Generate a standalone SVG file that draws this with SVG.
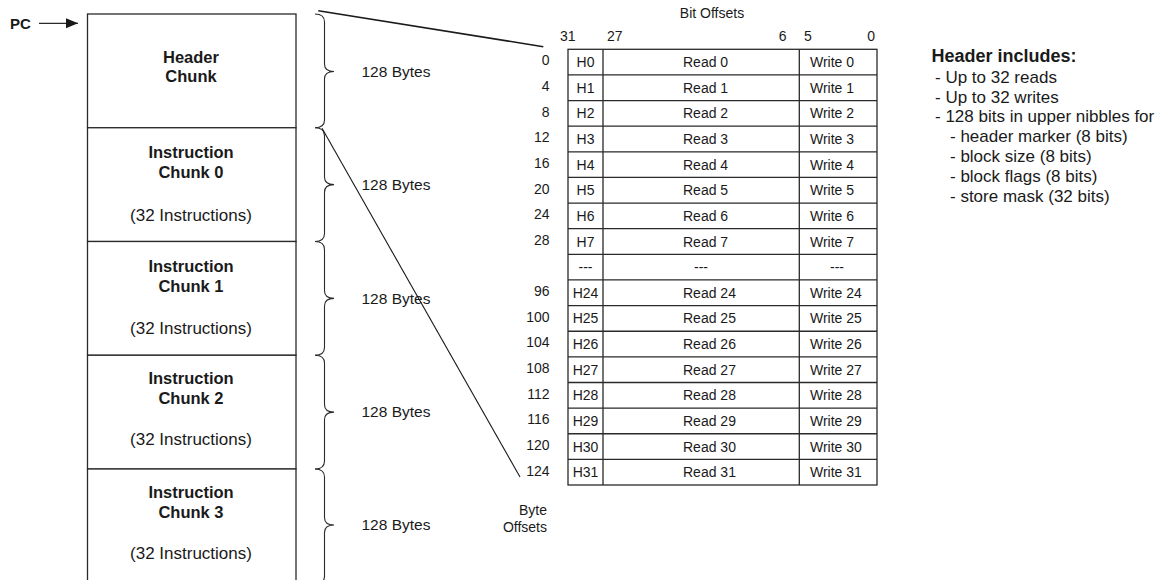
<svg xmlns="http://www.w3.org/2000/svg" width="1166" height="580" viewBox="0 0 1166 580">
<defs>
<style>
.t{font-family:"Liberation Sans",Arial,sans-serif;fill:#1a1a1a}
.b{font-weight:bold}
.c{text-anchor:middle}
.e{text-anchor:end}
.s14{font-size:14px}
.box{fill:#fff;stroke:#2a2a2a;stroke-width:1.3}
.ln{fill:none;stroke:#2a2a2a;stroke-width:1.3}
.br{fill:none;stroke:#2a2a2a;stroke-width:1.1}
</style>
<marker id="arr" markerWidth="13" markerHeight="11" refX="12" refY="5" orient="auto" markerUnits="userSpaceOnUse">
<path d="M0,0 L12,5 L0,10 z" fill="#1a1a1a"/>
</marker>
</defs>
<rect width="1166" height="580" fill="#fff"/>

<g id="pc">
<text class="t b" x="10" y="28.5" font-size="15">PC</text>
</g>

<g id="header-chunk">
<rect class="box" x="87.5" y="14" width="208.5" height="113.75"/>
<text class="t b c" x="191" y="63.3" font-size="16.5">Header</text>
<text class="t b c" x="191" y="82.3" font-size="16.5">Chunk</text>
</g>
<g id="chunk0">
<rect class="box" x="87.5" y="127.75" width="208.5" height="113.75"/>
<text class="t b c" x="191" y="158" font-size="16.5">Instruction</text>
<text class="t b c" x="191" y="177.5" font-size="16.5">Chunk 0</text>
<text class="t c" x="191" y="221" font-size="17">(32 Instructions)</text>
</g>
<g id="chunk1">
<rect class="box" x="87.5" y="241.5" width="208.5" height="113.75"/>
<text class="t b c" x="191" y="271.5" font-size="16.5">Instruction</text>
<text class="t b c" x="191" y="291.5" font-size="16.5">Chunk 1</text>
<text class="t c" x="191" y="334" font-size="17">(32 Instructions)</text>
</g>
<g id="chunk2">
<rect class="box" x="87.5" y="355.25" width="208.5" height="113.75"/>
<text class="t b c" x="191" y="383.5" font-size="16.5">Instruction</text>
<text class="t b c" x="191" y="403.5" font-size="16.5">Chunk 2</text>
<text class="t c" x="191" y="445" font-size="17">(32 Instructions)</text>
</g>
<g id="chunk3">
<rect class="box" x="87.5" y="469" width="208.5" height="130"/>
<text class="t b c" x="191" y="497.5" font-size="16.5">Instruction</text>
<text class="t b c" x="191" y="517.5" font-size="16.5">Chunk 3</text>
<text class="t c" x="191" y="558.5" font-size="17">(32 Instructions)</text>
</g>

<g id="braces">
<path class="br" d="M315,14 Q324.5,14 324.5,22 L324.5,64 Q324.5,71.5 334,71.5 Q324.5,71.5 324.5,79 L324.5,120 Q324.5,127.75 315,127.75"/>
<path class="br" d="M315,127.75 Q324.5,127.75 324.5,135.75 L324.5,177 Q324.5,184.6 334,184.6 Q324.5,184.6 324.5,192.2 L324.5,233.5 Q324.5,241.5 315,241.5"/>
<path class="br" d="M315,241.5 Q324.5,241.5 324.5,249.5 L324.5,290.8 Q324.5,298.4 334,298.4 Q324.5,298.4 324.5,306 L324.5,347.25 Q324.5,355.25 315,355.25"/>
<path class="br" d="M315,355.25 Q324.5,355.25 324.5,363.25 L324.5,404.5 Q324.5,412.1 334,412.1 Q324.5,412.1 324.5,419.7 L324.5,461 Q324.5,469 315,469"/>
<path class="br" d="M315,469 Q324.5,469 324.5,477 L324.5,517.5 Q324.5,525 334,525 Q324.5,525 324.5,532.5 L324.5,576 Q324.5,584 315,584"/>
<text class="t" x="361.5" y="76.8" font-size="15.5">128 Bytes</text>
<text class="t" x="361.5" y="190" font-size="15.5">128 Bytes</text>
<text class="t" x="361.5" y="303.5" font-size="15.5">128 Bytes</text>
<text class="t" x="361.5" y="417" font-size="15.5">128 Bytes</text>
<text class="t" x="361.5" y="530" font-size="15.5">128 Bytes</text>
</g>

<g id="connectors">
<line class="ln" x1="39" y1="23.3" x2="78" y2="23.3" stroke-width="1.2" marker-end="url(#arr)"/>
<line x1="318.3" y1="10.7" x2="543.3" y2="46.7" stroke="#1a1a1a" stroke-width="1.6"/>
<line x1="322" y1="128.3" x2="520" y2="477" stroke="#1a1a1a" stroke-width="1.1"/>
</g>

<g id="header-table">
<text class="t c s14" x="712" y="18.3">Bit Offsets</text>
<text class="t s14" x="560" y="40.7">31</text>
<text class="t s14" x="607" y="40.7">27</text>
<text class="t e s14" x="786.5" y="40.7">6</text>
<text class="t s14" x="804" y="40.7">5</text>
<text class="t e s14" x="875" y="40.7">0</text>
<rect class="box" x="568" y="49.3" width="309" height="435.7"/>
<path class="ln" d="M603,49.3 V485 M799.3,49.3 V485 M568,74.93 H877 M568,100.56 H877 M568,126.19 H877 M568,151.82 H877 M568,177.45 H877 M568,203.08 H877 M568,228.71 H877 M568,254.34 H877 M568,279.97 H877 M568,305.6 H877 M568,331.23 H877 M568,356.86 H877 M568,382.49 H877 M568,408.12 H877 M568,433.75 H877 M568,459.38 H877"/>
<g class="t s14">
<text class="c" x="585.5" y="67.1">H0</text><text x="683" y="67.1">Read 0</text><text x="810" y="67.1">Write 0</text>
<text class="c" x="585.5" y="92.8">H1</text><text x="683" y="92.8">Read 1</text><text x="810" y="92.8">Write 1</text>
<text class="c" x="585.5" y="118.4">H2</text><text x="683" y="118.4">Read 2</text><text x="810" y="118.4">Write 2</text>
<text class="c" x="585.5" y="144">H3</text><text x="683" y="144">Read 3</text><text x="810" y="144">Write 3</text>
<text class="c" x="585.5" y="169.6">H4</text><text x="683" y="169.6">Read 4</text><text x="810" y="169.6">Write 4</text>
<text class="c" x="585.5" y="195.3">H5</text><text x="683" y="195.3">Read 5</text><text x="810" y="195.3">Write 5</text>
<text class="c" x="585.5" y="220.9">H6</text><text x="683" y="220.9">Read 6</text><text x="810" y="220.9">Write 6</text>
<text class="c" x="585.5" y="246.5">H7</text><text x="683" y="246.5">Read 7</text><text x="810" y="246.5">Write 7</text>
<text class="c" x="585.5" y="272.2">---</text><text class="c" x="701" y="272.2">---</text><text class="c" x="837" y="272.2">---</text>
<text class="c" x="585.5" y="297.8">H24</text><text x="683" y="297.8">Read 24</text><text x="810" y="297.8">Write 24</text>
<text class="c" x="585.5" y="323.4">H25</text><text x="683" y="323.4">Read 25</text><text x="810" y="323.4">Write 25</text>
<text class="c" x="585.5" y="349">H26</text><text x="683" y="349">Read 26</text><text x="810" y="349">Write 26</text>
<text class="c" x="585.5" y="374.7">H27</text><text x="683" y="374.7">Read 27</text><text x="810" y="374.7">Write 27</text>
<text class="c" x="585.5" y="400.3">H28</text><text x="683" y="400.3">Read 28</text><text x="810" y="400.3">Write 28</text>
<text class="c" x="585.5" y="425.9">H29</text><text x="683" y="425.9">Read 29</text><text x="810" y="425.9">Write 29</text>
<text class="c" x="585.5" y="451.6">H30</text><text x="683" y="451.6">Read 30</text><text x="810" y="451.6">Write 30</text>
<text class="c" x="585.5" y="477.2">H31</text><text x="683" y="477.2">Read 31</text><text x="810" y="477.2">Write 31</text>
</g>
<g class="t e s14">
<text x="549.5" y="65.4">0</text>
<text x="549.5" y="91.1">4</text>
<text x="549.5" y="116.7">8</text>
<text x="549.5" y="142.3">12</text>
<text x="549.5" y="167.9">16</text>
<text x="549.5" y="193.6">20</text>
<text x="549.5" y="219.2">24</text>
<text x="549.5" y="244.8">28</text>
<text x="549.5" y="296.1">96</text>
<text x="549.5" y="321.7">100</text>
<text x="549.5" y="347.3">104</text>
<text x="549.5" y="373">108</text>
<text x="549.5" y="398.6">112</text>
<text x="549.5" y="424.2">116</text>
<text x="549.5" y="449.9">120</text>
<text x="549.5" y="475.5">124</text>
<text x="547" y="515">Byte</text>
<text x="547" y="532">Offsets</text>
</g>
</g>

<g id="header-notes">
<text class="t b" x="931.5" y="61.7" font-size="18">Header includes:</text>
<g class="t" font-size="17">
<text x="935" y="82.7">- Up to 32 reads</text>
<text x="935" y="102.7">- Up to 32 writes</text>
<text x="935" y="121.7">- 128 bits in upper nibbles for</text>
<text x="950" y="141.7">- header marker (8 bits)</text>
<text x="950" y="161.7">- block size (8 bits)</text>
<text x="950" y="181.7">- block flags (8 bits)</text>
<text x="950" y="201.7">- store mask (32 bits)</text>
</g>
</g>
</svg>
